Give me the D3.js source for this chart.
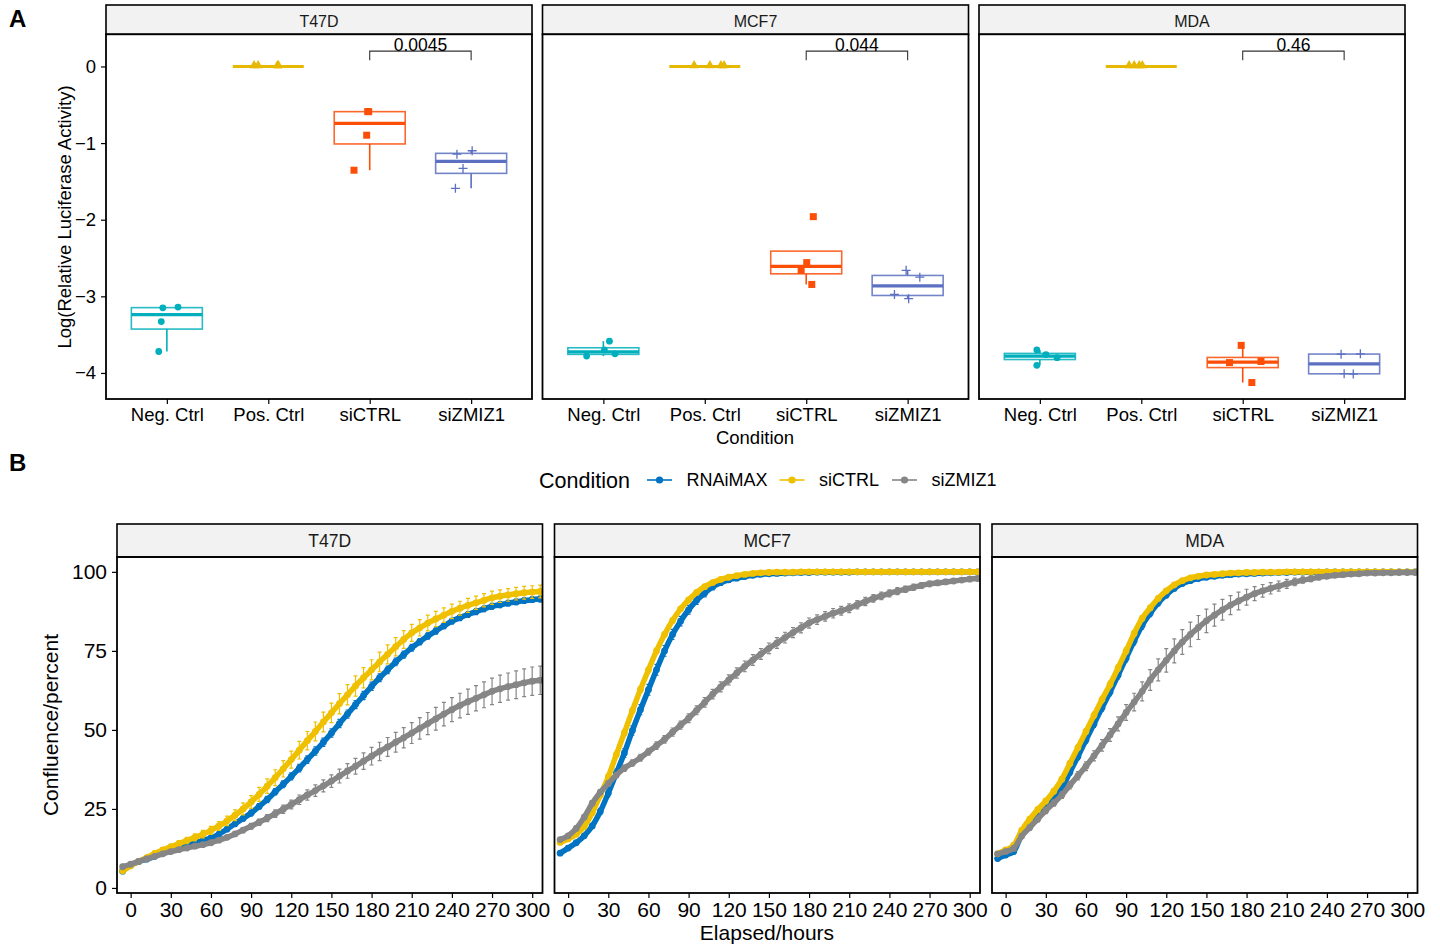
<!DOCTYPE html>
<html><head><meta charset="utf-8">
<script src="https://cdn.jsdelivr.net/npm/d3@7"></script>
<style>body{margin:0;background:#fff;} svg{display:block;font-family:"Liberation Sans",Arial,Helvetica,sans-serif;}</style>
</head><body><svg id="c" width="1440" height="946"></svg>
<script>
// ---------------- DATA: panel A (luciferase) ----------------
const cellLines = ["T47D", "MCF7", "MDA"];
const lucConditions = ["Neg. Ctrl", "Pos. Ctrl", "siCTRL", "siZMIZ1"];
// replicate values per cell line (T47D, MCF7, MDA)
const lucNegCtrl = [[-3.15, -3.14, -3.33, -3.72], [-3.78, -3.585, -3.75, -3.70], [-3.70, -3.90, -3.80, -3.76]];
const lucPosCtrl = [[0, 0, 0, 0], [0, 0, 0, 0], [0, 0, 0, 0]];
const lucSiCTRL = [[-0.588, -0.59, -0.897, -1.354], [-1.96, -2.56, -2.66, -2.845], [-3.64, -3.865, -3.85, -4.125]];
const lucSiZMIZ1 = [[-1.145, -1.10, -1.33, -1.59], [-2.66, -2.75, -2.975, -3.03], [-3.755, -3.75, -4.01, -4.015]];
// horizontal jitter of each replicate (category units)
const jitNegCtrl = [[-0.04, 0.11, -0.055, -0.08], [-0.165, 0.06, 0.115, 0.01], [-0.03, -0.03, 0.17, 0.06]];
const jitPosCtrl = [[-0.14, -0.10, 0.09, 0.10], [-0.105, 0.05, 0.16, 0.19], [-0.12, -0.07, -0.02, 0.01]];
const jitSiCTRL = [[-0.02, -0.01, -0.03, -0.155], [0.07, 0.005, -0.05, 0.055], [-0.015, -0.13, 0.18, 0.09]];
const jitSiZMIZ1 = [[-0.14, 0.01, -0.08, -0.155], [-0.015, 0.12, -0.13, 0.01], [-0.03, 0.16, 0.0, 0.09]];
const pValues = ["0.0045", "0.044", "0.46"];
const lucYTicks = [0, -1, -2, -3, -4];

// ---------------- DATA: panel B (confluence) ----------------
const growthConditions = ["RNAiMAX", "siCTRL", "siZMIZ1"];
const hours = [-6,0,6,12,18,24,30,36,42,48,54,60,66,72,78,84,90,96,102,108,114,120,126,132,138,144,150,156,162,168,174,180,186,192,198,204,210,216,222,228,234,240,246,252,258,264,270,276,282,288,294,300,306];
const hourTicks = [0, 30, 60, 90, 120, 150, 180, 210, 240, 270, 300];
const confTicks = [0, 25, 50, 75, 100];

const t47dRNAiMAX = [5.3,7.2,8.3,9.1,10.0,11.1,12.1,12.9,13.6,14.3,15.0,15.8,17.0,18.6,20.3,22.0,23.7,25.8,28.0,30.4,32.8,35.3,37.9,40.6,43.3,46.1,49.0,52.0,55.0,58.0,60.9,63.8,66.5,69.0,71.5,73.8,76.0,77.9,79.7,81.3,82.9,84.4,85.5,86.5,87.4,88.3,89.1,89.6,90.1,90.5,90.9,91.2,91.4];
const t47dSiCTRL = [5.4,7.0,8.4,9.6,10.9,12.0,13.0,14.0,15.0,16.0,17.0,18.2,19.6,21.2,23.0,25.0,27.2,29.6,32.2,34.9,37.7,40.6,43.6,46.6,49.5,52.5,55.4,58.3,61.1,63.9,66.5,69.0,71.5,73.9,76.3,78.6,80.7,82.3,83.8,85.1,86.3,87.5,88.5,89.4,90.2,91.0,91.8,92.3,92.7,93.1,93.4,93.6,93.8];
const t47dSiZMIZ1 = [6.7,7.5,8.4,9.2,10.0,10.8,11.5,12.1,12.6,13.2,13.7,14.3,15.1,16.0,17.1,18.3,19.5,20.8,22.1,23.5,24.9,26.4,27.9,29.4,30.8,32.3,33.8,35.4,37.0,38.5,40.1,41.7,43.2,44.6,46.1,47.5,49.0,50.5,52.0,53.5,55.0,56.4,57.7,58.9,60.0,61.1,62.2,63.0,63.7,64.3,64.9,65.4,65.7];
const mcf7RNAiMAX = [11.0,12.6,14.3,16.5,19.6,24.2,30.0,36.3,42.7,49.8,56.4,62.7,69.0,75.0,80.2,84.4,88.0,91.0,93.3,95.3,96.6,97.5,98.0,98.5,98.9,99.2,99.4,99.5,99.6,99.7,99.8,99.8,99.9,99.9,99.9,99.9,99.9,100,100,100,100,100,100,100,100,100,100,100,100,100,100,100,100];
const mcf7SiCTRL = [14.4,15.5,17.0,19.4,23.8,29.4,35.2,42.2,49.1,56.1,62.8,69.0,75.0,80.2,84.6,88.3,91.1,93.5,95.3,96.6,97.6,98.3,98.8,99.2,99.5,99.7,99.8,99.9,99.9,99.9,100,100,100,100,100,100,100,100,100,100,100,100,100,100,100,100,100,100,100,100,100,100,100];
const mcf7SiZMIZ1 = [15.3,16.5,18.8,22.4,26.8,30.3,33.0,35.7,37.9,39.5,41.2,43.1,45.0,47.0,49.3,51.5,53.7,56.2,58.7,61.3,63.6,65.8,68.0,70.1,72.1,74.0,75.8,77.5,79.2,80.8,82.3,83.8,84.9,85.9,86.9,87.7,88.5,89.6,90.6,91.6,92.4,93.2,93.9,94.5,95.1,95.7,96.2,96.5,96.8,97.1,97.4,97.7,97.9];
const mdaRNAiMAX = [9.3,10.4,11.5,16.8,20.0,23.0,25.7,28.4,31.6,36.6,41.6,46.8,51.9,57.0,62.0,67.3,72.7,78.1,83.1,86.9,90.2,92.7,94.8,96.3,97.2,97.9,98.3,98.6,98.9,99.1,99.3,99.4,99.5,99.6,99.7,99.8,99.8,99.9,99.9,99.9,99.9,100,100,100,100,100,100,100,100,100,100,100,100];
const mdaSiCTRL = [10.8,12.0,13.5,18.2,21.8,24.8,27.5,30.6,34.4,39.4,44.4,49.5,54.6,59.6,64.4,69.6,75.0,80.5,85.3,88.6,91.6,94.0,95.9,97.2,98.1,98.6,99.0,99.2,99.4,99.6,99.7,99.8,99.8,99.9,99.9,99.9,100,100,100,100,100,100,100,100,100,100,100,100,100,100,100,100,100];
const mdaSiZMIZ1 = [10.8,11.5,12.5,16.4,19.1,21.8,24.5,26.9,29.4,32.5,35.5,38.5,41.8,45.1,48.4,51.9,55.5,58.8,62.2,65.8,69.0,72.0,75.0,77.8,80.2,82.4,84.5,86.3,88.0,89.5,90.8,92.0,93.1,94.0,94.8,95.5,96.2,96.8,97.4,97.8,98.3,98.6,98.9,99.1,99.3,99.4,99.6,99.6,99.7,99.7,99.8,99.8,99.8];

// standard deviations (error bars)
const t47dRNAiMAXsd = [0.4,0.4,0.4,0.4,0.5,0.5,0.5,0.5,0.5,0.6,0.6,0.6,0.7,0.7,0.8,0.8,0.9,0.9,1.0,1.0,1.1,1.1,1.2,1.2,1.3,1.3,1.3,1.3,1.3,1.3,1.3,1.3,1.2,1.2,1.2,1.1,1.1,1.0,1.0,1.0,0.9,0.9,0.9,0.9,0.9,0.9,0.9,0.9,0.9,0.9,0.9,0.9,0.9];
const t47dSiCTRLsd = [0.4,0.4,0.5,0.6,0.7,0.8,0.9,1.0,1.0,1.1,1.2,1.3,1.4,1.5,1.7,1.9,2.0,2.2,2.3,2.5,2.6,2.7,2.8,2.9,3.0,3.1,3.1,3.2,3.2,3.2,3.2,3.2,3.1,3.0,2.9,2.8,2.7,2.6,2.5,2.4,2.3,2.3,2.2,2.2,2.1,2.1,2.1,2.0,2.0,2.0,2.0,2.0,2.0];
const t47dSiZMIZ1sd = [0.4,0.4,0.4,0.4,0.4,0.4,0.4,0.4,0.5,0.5,0.5,0.5,0.6,0.6,0.7,0.8,0.9,1.0,1.1,1.2,1.3,1.4,1.5,1.6,1.8,1.9,2.0,2.2,2.3,2.5,2.6,2.8,2.9,3.0,3.1,3.2,3.3,3.4,3.5,3.6,3.7,3.8,3.9,4.0,4.0,4.1,4.2,4.3,4.3,4.4,4.4,4.5,4.5];
const mcf7RNAiMAXsd = [0.6,0.6,0.6,0.7,0.8,1.0,1.2,1.3,1.4,1.5,1.6,1.7,1.7,1.7,1.6,1.5,1.4,1.3,1.2,1.0,0.9,0.8,0.7,0.6,0.5,0.5,0.4,0.4,0.3,0.3,0.3,0.3,0.3,0.3,0.3,0.3,0.3,0.3,0.3,0.3,0.3,0.3,0.3,0.3,0.3,0.3,0.3,0.3,0.3,0.3,0.3,0.3,0.3];
const mcf7SiCTRLsd = [0.5,0.5,0.5,0.6,0.6,0.7,0.8,0.8,0.9,0.9,0.9,0.9,0.9,0.8,0.8,0.7,0.6,0.6,0.5,0.5,0.4,0.4,0.4,0.3,0.3,0.3,0.3,0.3,0.3,0.3,0.3,0.3,0.3,0.3,0.3,0.3,0.3,0.3,0.3,0.3,0.3,0.3,0.3,0.3,0.3,0.3,0.3,0.3,0.3,0.3,0.3,0.3,0.3];
const mcf7SiZMIZ1sd = [0.6,0.6,0.7,0.7,0.8,0.8,0.9,0.9,1.0,1.0,1.1,1.1,1.2,1.2,1.3,1.3,1.4,1.4,1.5,1.5,1.6,1.6,1.6,1.7,1.7,1.7,1.7,1.7,1.7,1.6,1.6,1.6,1.5,1.5,1.5,1.4,1.4,1.3,1.3,1.2,1.2,1.1,1.1,1.0,1.0,0.9,0.9,0.8,0.8,0.7,0.7,0.7,0.7];
const mdaRNAiMAXsd = [0.6,0.6,0.7,0.7,0.7,0.8,0.8,0.8,0.9,0.9,1.0,1.0,1.1,1.1,1.2,1.2,1.2,1.2,1.2,1.1,1.0,0.9,0.8,0.7,0.6,0.5,0.5,0.4,0.4,0.4,0.3,0.3,0.3,0.3,0.3,0.3,0.3,0.3,0.3,0.3,0.3,0.3,0.3,0.3,0.3,0.3,0.3,0.3,0.3,0.3,0.3,0.3,0.3];
const mdaSiCTRLsd = [0.6,0.6,0.7,0.7,0.7,0.8,0.8,0.8,0.8,0.9,0.9,0.9,1.0,1.0,1.0,1.0,1.0,1.0,0.9,0.8,0.7,0.6,0.5,0.5,0.4,0.4,0.3,0.3,0.3,0.3,0.3,0.3,0.3,0.3,0.3,0.3,0.3,0.3,0.3,0.3,0.3,0.3,0.3,0.3,0.3,0.3,0.3,0.3,0.3,0.3,0.3,0.3,0.3];
const mdaSiZMIZ1sd = [0.6,0.6,0.7,0.7,0.8,0.9,1.0,1.0,1.1,1.2,1.3,1.4,1.6,1.8,2.0,2.2,2.5,2.8,3.0,3.3,3.5,3.7,3.8,3.9,3.9,3.8,3.7,3.5,3.3,3.0,2.8,2.5,2.2,2.0,1.8,1.6,1.4,1.2,1.0,0.9,0.8,0.7,0.6,0.5,0.5,0.4,0.4,0.4,0.3,0.3,0.3,0.3,0.3];

// ---------------- RENDERING ----------------
const svg = d3.select("#c");
const colA = ["#00AFBB", "#E7B800", "#FC4E07", "#5B70C0"];
const colB = ["#0073C2", "#EFC000", "#868686"];
const lucSeries = [lucNegCtrl, lucPosCtrl, lucSiCTRL, lucSiZMIZ1];
const jitSeries = [jitNegCtrl, jitPosCtrl, jitSiCTRL, jitSiZMIZ1];
const growth = [[t47dRNAiMAX, t47dSiCTRL, t47dSiZMIZ1], [mcf7RNAiMAX, mcf7SiCTRL, mcf7SiZMIZ1], [mdaRNAiMAX, mdaSiCTRL, mdaSiZMIZ1]];
const growthSd = [[t47dRNAiMAXsd, t47dSiCTRLsd, t47dSiZMIZ1sd], [mcf7RNAiMAXsd, mcf7SiCTRLsd, mcf7SiZMIZ1sd], [mdaRNAiMAXsd, mdaSiCTRLsd, mdaSiZMIZ1sd]];
const minus = d => d < 0 ? "\u2212" + Math.abs(d) : String(d);

function styleAxis(g, fs) {
  g.select(".domain").remove();
  g.selectAll(".tick line").attr("stroke", "#000").attr("stroke-width", 1.2);
  g.selectAll(".tick text").attr("fill", "#000").style("font-size", fs + "px")
    .style("font-family", '"Liberation Sans",Arial,sans-serif');
}

// panel labels
svg.append("text").attr("x", 9).attr("y", 27).text("A").style("font-size", "24px").style("font-weight", "bold");
svg.append("text").attr("x", 9).attr("y", 471).text("B").style("font-size", "24px").style("font-weight", "bold");

// ----- Panel A -----
const PA = { left: 106, width: 426, gap: 10.5, stripTop: 5, top: 34.3, bottom: 399 };
const yA = d3.scaleLinear().domain([-4.34, 0.42]).range([PA.bottom, PA.top]);
const bracketY = 0.2, bracketTickY = 0.08;

cellLines.forEach((cl, i) => {
  const x0 = PA.left + i * (PA.width + PA.gap);
  const xA = d3.scalePoint().domain(lucConditions).range([x0, x0 + PA.width]).padding(0.6);
  const step = xA.step();
  const bw = 0.7 * step;
  const g = svg.append("g");
  g.append("rect").attr("x", x0).attr("y", PA.stripTop).attr("width", PA.width).attr("height", PA.top - PA.stripTop)
    .attr("fill", "#F2F2F2").attr("stroke", "#000").attr("stroke-width", 1.6);
  g.append("text").attr("x", x0 + PA.width / 2).attr("y", 26.5).attr("text-anchor", "middle")
    .style("font-size", "16px").attr("fill", "#1a1a1a").text(cl);
  g.append("rect").attr("x", x0).attr("y", PA.top).attr("width", PA.width).attr("height", PA.bottom - PA.top).attr("fill", "#fff");

  lucConditions.forEach((c, j) => {
    const vals = lucSeries[j][i];
    const s = vals.slice().sort(d3.ascending);
    const q1 = d3.quantileSorted(s, 0.25), med = d3.quantileSorted(s, 0.5), q3 = d3.quantileSorted(s, 0.75);
    const iqr = q3 - q1;
    const lo = d3.min(s.filter(v => v >= q1 - 1.5 * iqr));
    const hi = d3.max(s.filter(v => v <= q3 + 1.5 * iqr));
    const cx = xA(c), col = colA[j];
    const bg = g.append("g");
    bg.append("line").attr("x1", cx).attr("x2", cx).attr("y1", yA(q1)).attr("y2", yA(Math.min(lo, q1))).attr("stroke", col).attr("stroke-width", 1.6);
    bg.append("line").attr("x1", cx).attr("x2", cx).attr("y1", yA(q3)).attr("y2", yA(Math.max(hi, q3))).attr("stroke", col).attr("stroke-width", 1.6);
    bg.append("rect").attr("x", cx - bw / 2).attr("y", yA(q3)).attr("width", bw).attr("height", Math.max(0, yA(q1) - yA(q3)))
      .attr("fill", "#fff").attr("fill-opacity", 0.6).attr("stroke", col).attr("stroke-width", 1.6).attr("stroke-opacity", 0.85);
    bg.append("line").attr("x1", cx - bw / 2).attr("x2", cx + bw / 2).attr("y1", yA(med)).attr("y2", yA(med)).attr("stroke", col).attr("stroke-width", 3.2);
    // points
    vals.forEach((v, k) => {
      const px = cx + jitSeries[j][i][k] * step, py = yA(v);
      if (j === 0) g.append("circle").attr("cx", px).attr("cy", py).attr("r", 3.4).attr("fill", col);
      else if (j === 1) g.append("path").attr("d", d3.symbol(d3.symbolTriangle, 38)()).attr("transform", `translate(${px},${py - 1})`).attr("fill", col);
      else if (j === 2) g.append("rect").attr("x", px - 3.5).attr("y", py - 3.5).attr("width", 7).attr("height", 7).attr("fill", col);
      else g.append("path").attr("d", `M${px - 4.5},${py}H${px + 4.5}M${px},${py - 4.5}V${py + 4.5}`).attr("stroke", col).attr("stroke-width", 1.3).attr("fill", "none");
    });
  });

  // significance bracket
  const bx1 = xA("siCTRL"), bx2 = xA("siZMIZ1");
  g.append("path").attr("d", `M${bx1},${yA(bracketTickY)}V${yA(bracketY)}H${bx2}V${yA(bracketTickY)}`)
    .attr("fill", "none").attr("stroke", "#333").attr("stroke-width", 1.1);
  g.append("text").attr("x", (bx1 + bx2) / 2).attr("y", yA(bracketY) - 0.5).attr("text-anchor", "middle")
    .style("font-size", "17.5px").attr("fill", "#000").text(pValues[i]);

  g.append("rect").attr("x", x0).attr("y", PA.top).attr("width", PA.width).attr("height", PA.bottom - PA.top)
    .attr("fill", "none").attr("stroke", "#000").attr("stroke-width", 1.8);

  const ax = g.append("g").attr("transform", `translate(0,${PA.bottom})`)
    .call(d3.axisBottom(xA).tickSize(5).tickPadding(4));
  styleAxis(ax, 18.5);
  if (i === 0) {
    const ay = g.append("g").attr("transform", `translate(${x0},0)`)
      .call(d3.axisLeft(yA).tickValues(lucYTicks).tickSize(5).tickPadding(5).tickFormat(minus));
    styleAxis(ay, 18.5);
  }
});
svg.append("text").attr("transform", "translate(71,217) rotate(-90)").attr("text-anchor", "middle")
  .style("font-size", "18.5px").text("Log(Relative Luciferase Activity)");
svg.append("text").attr("x", 755).attr("y", 444).attr("text-anchor", "middle").style("font-size", "18.5px").text("Condition");

// ----- Legend B -----
const lg = svg.append("g");
lg.append("text").attr("x", 539).attr("y", 480).attr("dy", "0.35em").style("font-size", "21.5px").text("Condition");
const keyX = [647, 779.5, 892], labX = [686.5, 819, 931.5];
growthConditions.forEach((c, k) => {
  lg.append("line").attr("x1", keyX[k]).attr("x2", keyX[k] + 25).attr("y1", 480).attr("y2", 480).attr("stroke", colB[k]).attr("stroke-width", 1.6);
  lg.append("circle").attr("cx", keyX[k] + 12.5).attr("cy", 480).attr("r", 3.6).attr("fill", colB[k]);
  lg.append("text").attr("x", labX[k]).attr("y", 480).attr("dy", "0.35em").style("font-size", "18px").text(c);
});

// ----- Panel B -----
const PB = { left: 117, width: 425.5, gap: 12, stripTop: 524, top: 557, bottom: 893 };
const yB = d3.scaleLinear().domain([-1.6, 104.7]).range([PB.bottom, PB.top]);
cellLines.forEach((cl, i) => {
  const x0 = PB.left + i * (PB.width + PB.gap);
  const xB = d3.scaleLinear().domain([-10.2, 307.7]).range([x0, x0 + PB.width]);
  const g = svg.append("g");
  g.append("rect").attr("x", x0).attr("y", PB.stripTop).attr("width", PB.width).attr("height", PB.top - PB.stripTop)
    .attr("fill", "#F2F2F2").attr("stroke", "#000").attr("stroke-width", 1.6);
  g.append("text").attr("x", x0 + PB.width / 2).attr("y", 547).attr("text-anchor", "middle")
    .style("font-size", "17.5px").attr("fill", "#1a1a1a").text(cl);
  const cid = "clipB" + i;
  svg.append("clipPath").attr("id", cid).append("rect").attr("x", x0).attr("y", PB.top).attr("width", PB.width).attr("height", PB.bottom - PB.top);
  const pg = g.append("g").attr("clip-path", `url(#${cid})`);
  growthConditions.forEach((c, k) => {
    const vals = growth[i][k], sd = growthSd[i][k];
    const pts = hours.map((h, n) => ({ h, v: vals[n], e: sd[n] })).filter(d => d.v !== undefined);
    pg.append("path").datum(pts).attr("d", d3.line().curve(d3.curveMonotoneX).x(d => xB(d.h)).y(d => yB(d.v)))
      .attr("fill", "none").attr("stroke", colB[k]).attr("stroke-width", 5.5).attr("stroke-linejoin", "round").attr("stroke-linecap", "round");
    pg.append("g").selectAll("path").data(pts).join("path")
      .attr("d", d => { const x = xB(d.h), y1 = yB(d.v - d.e), y2 = yB(d.v + d.e); return `M${x},${y1}V${y2}M${x - 2},${y1}H${x + 2}M${x - 2},${y2}H${x + 2}`; })
      .attr("stroke", colB[k]).attr("stroke-width", 1.2).attr("fill", "none");
    pg.append("g").selectAll("circle").data(pts).join("circle")
      .attr("cx", d => xB(d.h)).attr("cy", d => yB(d.v)).attr("r", 3.4).attr("fill", colB[k]);
  });
  g.append("rect").attr("x", x0).attr("y", PB.top).attr("width", PB.width).attr("height", PB.bottom - PB.top)
    .attr("fill", "none").attr("stroke", "#000").attr("stroke-width", 1.8);
  const ax = g.append("g").attr("transform", `translate(0,${PB.bottom})`)
    .call(d3.axisBottom(xB).tickValues(hourTicks).tickSize(5).tickPadding(4).tickFormat(d3.format("d")));
  styleAxis(ax, 21);
  if (i === 0) {
    const ay = g.append("g").attr("transform", `translate(${x0},0)`)
      .call(d3.axisLeft(yB).tickValues(confTicks).tickSize(5).tickPadding(5).tickFormat(d3.format("d")));
    styleAxis(ay, 21);
  }
});
svg.append("text").attr("transform", "translate(58,725) rotate(-90)").attr("text-anchor", "middle")
  .style("font-size", "21px").text("Confluence/percent");
svg.append("text").attr("x", 767).attr("y", 940).attr("text-anchor", "middle").style("font-size", "21px").text("Elapsed/hours");
</script></body></html>
